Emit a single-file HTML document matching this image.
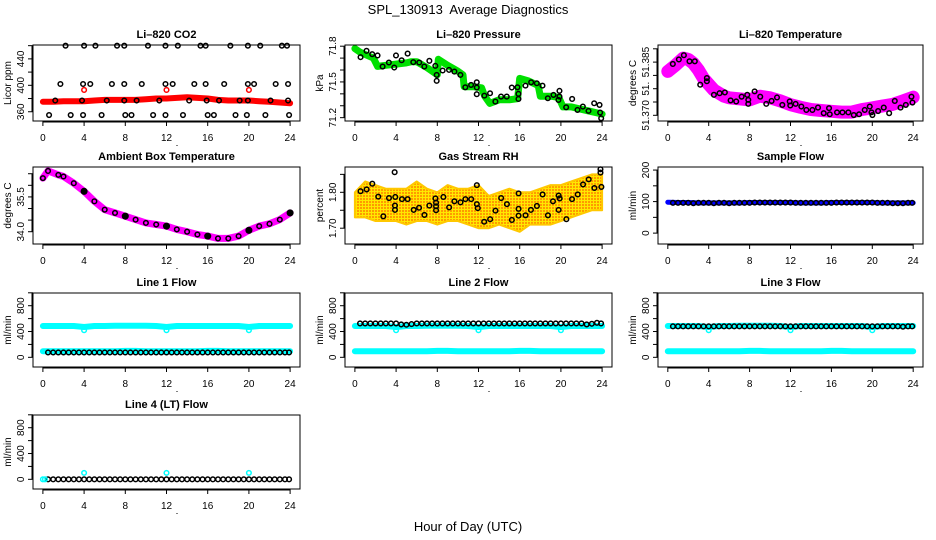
<!DOCTYPE html>
<html><head><meta charset="utf-8"><style>
html,body{margin:0;padding:0;background:#fff;width:936px;height:540px;overflow:hidden}
svg{display:block;font-family:"Liberation Sans",sans-serif}
</style></head><body>
<svg id="chart" width="936" height="540" viewBox="0 0 936 540" xmlns="http://www.w3.org/2000/svg">
<defs>
<pattern id="rhpat" width="3" height="3" patternUnits="userSpaceOnUse">
<rect width="3" height="3" fill="#ffe800"/><rect width="2" height="2" fill="#ff9a00"/>
</pattern>
</defs>
<text x="468" y="14" text-anchor="middle" font-size="13">SPL_130913&#160; Average Diagnostics</text>
<text x="468" y="531" text-anchor="middle" font-size="13">Hour of Day (UTC)</text>
</svg>
<script>
// ---------- data ----------
const hourTicks = [0,4,8,12,16,20,24];
const hours = [0,1,2,3,4,5,6,7,8,9,10,11,12,13,14,15,16,17,18,19,20,21,22,23,24];
const halfHours = [0.5,1,1.5,2,2.5,3,3.5,4,4.5,5,5.5,6,6.5,7,7.5,8,8.5,9,9.5,10,10.5,11,11.5,12,12.5,13,13.5,14,14.5,15,15.5,16,16.5,17,17.5,18,18.5,19,19.5,20,20.5,21,21.5,22,22.5,23,23.5,23.9];

// CO2
const co2Band = [375,375,376,376,376,377,378,378,378,378,379,380,380,381,382,381,380,378,377,377,377,376,375,374,373];
const co2RedOutH = [4,12,20];
const co2RedOutV = [393,393,393];
const co2TopH = [2.2,4.0,5.1,7.2,7.9,10.2,11.9,13.1,15.3,15.8,18.2,19.9,21.1,23.2,23.7];
const co2MidH = [1.7,3.9,4.6,6.7,7.9,9.6,11.9,12.6,14.7,15.8,17.6,19.9,20.5,22.6,23.8];
const co2LowH = [0.6,2.7,3.9,5.7,8.0,8.6,10.7,11.9,13.6,16.0,16.6,18.7,19.8,21.6,23.9];
const co2BandH = [1.2,3.8,6.2,7.9,9.1,11.3,14.2,15.9,17.1,19.1,19.9,22.1,23.8];
const co2TopV = 460, co2MidV = 402, co2LowV = 355, co2BandV = 377;

// Pressure
const presBandH = [0,0.5,1,1.8,2.2,3,4,5,5.5,6,7,8,8.1,9,10,10.5,10.6,11.5,12.3,12.6,13.1,14,15,15.8,16,16.8,17.8,18,19,19.8,20.2,21,22,23,23.5,24];
const presBandV = [71.78,71.75,71.73,71.70,71.63,71.64,71.65,71.66,71.67,71.67,71.62,71.56,71.69,71.64,71.59,71.56,71.46,71.46,71.45,71.38,71.32,71.35,71.35,71.36,71.53,71.51,71.47,71.38,71.38,71.37,71.29,71.29,71.27,71.25,71.24,71.23];
const presPtH = [0.55,1.13,1.68,2.2,2.69,3.3,3.82,3.99,4.54,5.12,5.67,6.25,6.74,7.23,7.81,7.94,7.94,8.52,9.14,9.66,10.24,10.72,11.28,11.83,11.83,11.83,12.57,13.12,13.64,14.19,14.74,15.23,15.78,15.88,15.88,16.56,17.11,17.66,18.21,18.73,19.28,19.76,19.86,19.86,20.51,21.09,21.61,22.13,22.68,23.23,23.75,23.81,23.91];
const presPtV = [71.708,71.761,71.733,71.722,71.629,71.663,71.621,71.722,71.682,71.738,71.666,71.663,71.629,71.677,71.635,71.559,71.509,71.596,71.601,71.587,71.559,71.455,71.475,71.497,71.453,71.397,71.385,71.405,71.335,71.377,71.377,71.453,71.455,71.4,71.357,71.469,71.497,71.489,71.469,71.363,71.391,71.349,71.425,71.377,71.287,71.357,71.265,71.293,71.257,71.321,71.307,71.243,71.195];

// Li-820 temperature
const ltBandV = [51.3865,51.389,51.3915,51.391,51.3895,51.387,51.3838,51.3795,51.3772,51.3766,51.3758,51.3772,51.3766,51.3754,51.374,51.373,51.3722,51.3718,51.3715,51.3712,51.3712,51.3722,51.3728,51.3735,51.3741,51.3754,51.3768];
const ltBandH = [0,0.8,1.5,2,2.5,3,3.5,4.5,5.5,6,8,9,10,11,12,13,14,15,16,17,18,19,20,21,22,23,24];
const ltPtH = [0.49,1.08,1.57,2.12,2.64,3.17,3.82,3.82,4.51,5.06,5.58,6.14,6.69,7.22,7.77,7.87,7.87,8.49,9.04,9.63,10.15,10.68,11.2,11.92,11.98,12.5,13.06,13.55,14.14,14.69,15.25,15.77,15.84,16.55,17.08,17.66,18.19,18.71,19.26,19.75,19.92,20.01,20.57,21.12,21.65,22.2,22.76,23.28,23.83,23.93];
const ltPtV = [51.3893,51.391,51.3926,51.3903,51.3903,51.3815,51.384,51.3828,51.3777,51.3783,51.3786,51.3756,51.3752,51.377,51.3777,51.3758,51.3743,51.379,51.377,51.3743,51.3754,51.3767,51.3739,51.3752,51.3737,51.3743,51.3733,51.372,51.372,51.3729,51.3708,51.3727,51.3704,51.3711,51.3711,51.3711,51.3701,51.3704,51.372,51.3733,51.3711,51.3701,51.3716,51.3729,51.3708,51.3754,51.3729,51.3739,51.377,51.3748];

// Ambient box temperature
const ambH = [0,0.5,1.5,2,3,4,5,6,7,8,9,10,11,12,13,14,15,16,17,18,19,20,21,22,23,24];
const ambV = [36.31,36.62,36.45,36.38,36.09,35.74,35.31,34.95,34.81,34.67,34.52,34.38,34.31,34.24,34.10,34.00,33.88,33.81,33.71,33.71,33.81,34.06,34.24,34.34,34.52,34.81];
const ambFilledH = [4,8,12,16,20,24];
const ambFilledV = [35.74,34.67,34.24,33.81,34.06,34.81];

// Gas stream RH
const rhHi = [1.80,1.83,1.82,1.81,1.81,1.81,1.83,1.81,1.80,1.82,1.81,1.81,1.82,1.79,1.80,1.81,1.80,1.80,1.81,1.82,1.82,1.83,1.84,1.85,1.85];
const rhLo = [1.73,1.73,1.72,1.72,1.72,1.71,1.72,1.72,1.71,1.72,1.72,1.71,1.70,1.70,1.71,1.70,1.69,1.71,1.71,1.71,1.72,1.73,1.74,1.75,1.75];
const rhPtH = [0.55,1.14,1.69,2.27,2.76,3.31,3.92,3.89,3.89,3.86,4.57,5.12,5.71,6.23,6.75,7.23,7.82,7.88,7.88,7.88,8.59,9.15,9.66,10.25,10.73,11.29,11.84,11.84,11.93,12.55,13.13,13.65,14.2,14.76,15.24,15.89,15.89,15.89,16.57,17.09,17.67,18.22,18.74,19.23,19.78,19.78,19.88,20.53,21.08,21.63,22.15,22.7,23.25,23.84,23.84,23.93];
const rhPtV = [1.803,1.808,1.824,1.788,1.733,1.784,1.787,1.763,1.751,1.856,1.781,1.781,1.751,1.757,1.737,1.763,1.783,1.771,1.761,1.750,1.787,1.758,1.775,1.772,1.781,1.781,1.820,1.767,1.756,1.718,1.725,1.749,1.784,1.767,1.723,1.797,1.754,1.735,1.736,1.751,1.762,1.794,1.736,1.775,1.751,1.791,1.783,1.725,1.781,1.794,1.822,1.836,1.812,1.864,1.855,1.815];

// Sample flow
const sampleBand = [98,97,97,96,96,96,96,96,97,97,97,97,97,96,96,96,97,97,97,97,97,96,96,96,96];
const samplePt = [96,96,96,96,95,96,96,96,95,96,96,95,96,96,96,96,97,97,97,97,97,97,97,97,96,96,96,96,96,96,96,96,97,97,97,97,97,97,97,97,96,96,96,95,95,95,96,96];

// Line flows
const flowUpper = [485,485,485,485,470,485,485,490,490,490,490,485,470,485,485,485,485,485,485,485,470,485,485,485,485];
const flowLower = [95,95,95,95,95,95,95,95,100,100,95,95,95,95,95,95,100,100,95,95,95,95,95,95,95];
const flowDipH = [4,12,20];
const flowDipV = [420,420,420];
const line1Black = [75,75,75,75,75,75,75,75,75,75,75,75,75,75,75,75,75,75,75,75,75,75,75,75,75,75,75,75,75,75,75,75,75,75,75,75,75,75,75,75,75,75,75,75,75,75,75,75];
const line2Black = [525,525,525,525,525,525,525,525,510,505,515,525,525,525,525,525,525,525,525,525,525,525,525,525,525,525,525,525,525,525,525,525,525,525,525,525,525,525,525,525,525,525,525,525,510,520,535,525];
const line3Black = [480,480,480,480,480,480,480,480,480,480,480,480,480,480,480,480,480,480,480,480,480,480,480,480,480,480,480,480,480,480,480,480,480,480,480,480,480,480,480,480,480,480,480,480,480,475,480,480];
const line4Black = [0,0,0,0,0,0,0,0,0,0,0,0,0,0,0,0,0,0,0,0,0,0,0,0,0,0,0,0,0,0,0,0,0,0,0,0,0,0,0,0,0,0,0,0,0,0,0,0];
const line4CyanH = [0,0.2,4,12,20];
const line4CyanV = [0,0,100,100,100];

// ---------- drawing ----------
const svg = document.getElementById('chart');
const NS = 'http://www.w3.org/2000/svg';
function mk(tag, attrs, parent){
  const e = document.createElementNS(NS, tag);
  for (const k in attrs) e.setAttribute(k, attrs[k]);
  (parent||svg).appendChild(e);
  return e;
}
const cols = [[33,300],[345,612],[658,923]];
const rows = [[45,121],[167,244],[293,367],[415,489]];

function panel(name, col, row, title, ylab, ydom, yticks, ylabels){
  const [x0,x1] = cols[col], [y0,y1] = rows[row];
  const g = mk('g', {});
  
  
  const sx = h => x0 + (h + 0.96) / 25.92 * (x1 - x0);
  const sy = v => y1 - (v - ydom[0]) / (ydom[1] - ydom[0]) * (y1 - y0);
  const plot = mk('g', {}, g);
  
  
  const t = mk('text', {x:(x0+x1)/2, y:y0-7, 'text-anchor':'middle', 'font-size':'11', 'font-weight':'bold'}, g);
  
  
  t.textContent = title;
  const yl = mk('text', {x:0, y:0, 'text-anchor':'middle', 'font-size':'10', transform:`translate(${x0-22},${(y0+y1)/2}) rotate(-90)`}, g);
  
  
  yl.textContent = ylab;
  const xa = mk('g', {stroke:'#000','stroke-width':'1'}, g);
  
  
  mk('line', {x1:sx(0), x2:sx(24), y1:y1+1, y2:y1+1}, xa);
  hourTicks.forEach(h => {
    mk('line', {x1:sx(h), x2:sx(h), y1:y1, y2:y1+5}, xa);
    const tl = mk('text', {x:sx(h), y:y1+20, 'text-anchor':'middle', 'font-size':'10', stroke:'none', fill:'#000'}, xa);
    
    
    tl.textContent = h;
  });
  const dot = mk('rect', {x:(x0+x1)/2+10, y:y1+24, width:1, height:1, fill:'#000'}, g);
  
  
  const ya = mk('g', {stroke:'#000','stroke-width':'1'}, g);
  
  
  mk('line', {x1:x0-1, x2:x0-1, y1:sy(yticks[0]), y2:sy(yticks[yticks.length-1])}, ya);
  yticks.forEach((v,i) => {
    mk('line', {x1:x0-5, x2:x0, y1:sy(v), y2:sy(v)}, ya);
    if (ylabels[i]) {
      const tl = mk('text', {x:0, y:0, 'text-anchor':'middle', 'font-size':'10', stroke:'none', fill:'#000', transform:`translate(${x0-9},${sy(v)}) rotate(-90)`}, ya);
      
      
      tl.textContent = ylabels[i];
    }
  });
  const box = mk('rect', {x:x0, y:y0, width:x1-x0, height:y1-y0, fill:'none', stroke:'#000', 'stroke-width':'1'}, g);
  
  
  return {sx, sy, g:plot};
}
function band(p, hs, vs, color, w, name){
  const pts = hs.map((h,i) => p.sx(h).toFixed(1) + ',' + p.sy(vs[i]).toFixed(1)).join(' ');
  const l = mk('polyline', {points:pts, fill:'none', stroke:color, 'stroke-width':w, 'stroke-linejoin':'round', 'stroke-linecap':'round'}, p.g);
  
  
}
function circles(p, hs, vs, color, name, r, fill){
  hs.forEach((h,i) => {
    const c = mk('circle', {cx:p.sx(h), cy:p.sy(vs[i]), r:r||2.3, fill:fill||'none', stroke:color, 'stroke-width':'1.5'}, p.g);
    
    
  });
}
function constCircles(p, hs, v, color, name){
  circles(p, hs, hs.map(() => v), color, name);
}

let p = panel('co2', 0, 0, 'Li\u2013820 CO2', 'Licor ppm', [346,461], [360,380,400,420,440,460], ['360','','400','','440','']);
band(p, hours, co2Band, '#ff0000', 6, 'co2-series');
circles(p, co2RedOutH, co2RedOutV, '#ff0000', 'co2-outlier');
constCircles(p, co2TopH, co2TopV, '#000', 'co2-point');
constCircles(p, co2MidH, co2MidV, '#000', 'co2-point');
constCircles(p, co2LowH, co2LowV, '#000', 'co2-point');
constCircles(p, co2BandH, co2BandV, '#000', 'co2-point');

p = panel('pressure', 1, 0, 'Li\u2013820 Pressure', 'kPa', [71.172,71.81], [71.2,71.3,71.4,71.5,71.6,71.7,71.8], ['71.2','','','71.5','','','71.8']);
band(p, presBandH, presBandV, '#00e000', 7, 'pressure-series');
circles(p, presPtH, presPtV, '#000', 'pressure-point');

p = panel('li820-temp', 2, 0, 'Li\u2013820 Temperature', 'degrees C', [51.36786,51.39643], [51.370,51.375,51.380,51.385,51.390,51.395], ['51.370','','51.','','51.385','']);
band(p, ltBandH, ltBandV, '#ff00ff', 13, 'li820-temp-series');
circles(p, ltPtH, ltPtV, '#000', 'li820-temp-point');

p = panel('ambient-temp', 0, 1, 'Ambient Box Temperature', 'degrees C', [33.47,36.79], [34.0,34.5,35.0,35.5,36.0,36.5], ['34.0','','','35.5','','']);
band(p, ambH, ambV, '#ff00ff', 7, 'ambient-temp-series');
circles(p, ambH, ambV, '#000', 'ambient-temp-point');
circles(p, ambFilledH, ambFilledV, '#000', 'ambient-temp-filled-point', 2.8, '#000');

p = panel('gas-rh', 1, 1, 'Gas Stream RH', 'percent', [1.656,1.8705], [1.70,1.75,1.80,1.85], ['1.70','','1.80','']);
{
  const up = hours.map((h,i) => p.sx(h).toFixed(1)+','+p.sy(rhHi[i]).toFixed(1));
  const dn = hours.map((h,i) => p.sx(h).toFixed(1)+','+p.sy(rhLo[i]).toFixed(1)).reverse();
  const poly = mk('polygon', {points:up.concat(dn).join(' '), fill:'url(#rhpat)', stroke:'#ffc800', 'stroke-width':'2', 'stroke-linejoin':'round'}, p.g);
  
  
}
circles(p, rhPtH, rhPtV, '#000', 'gas-rh-point');

p = panel('sample-flow', 2, 1, 'Sample Flow', 'ml/min', [-34.5,209.7], [0,50,100,150,200], ['0','','100','','200']);
band(p, hours, sampleBand, '#0000ff', 5, 'sample-flow-series');
circles(p, halfHours, samplePt, '#000', 'sample-flow-point');

const fTicks = [0,200,400,600,800,1000], fLabels = ['0','','400','','800',''];
function flowPanel(name, col, row, title, black, cyanBands){
  const q = panel(name, col, row, title, 'ml/min', [-150,997], fTicks, fLabels);
  if (cyanBands) {
    band(q, hours, flowUpper, '#00ffff', 6, name + '-cyan-upper');
    band(q, hours, flowLower, '#00ffff', 6, name + '-cyan-lower');
    circles(q, flowDipH, flowDipV, '#00ffff', name + '-cyan-dip');
  }
  circles(q, halfHours, black, '#000', name + '-point');
  return q;
}
flowPanel('line1-flow', 0, 2, 'Line 1 Flow', line1Black, true);
flowPanel('line2-flow', 1, 2, 'Line 2 Flow', line2Black, true);
flowPanel('line3-flow', 2, 2, 'Line 3 Flow', line3Black, true);
p = flowPanel('line4-flow', 0, 3, 'Line 4 (LT) Flow', line4Black, false);
circles(p, line4CyanH, line4CyanV, '#00ffff', 'line4-flow-cyan');
</script>
</body></html>
